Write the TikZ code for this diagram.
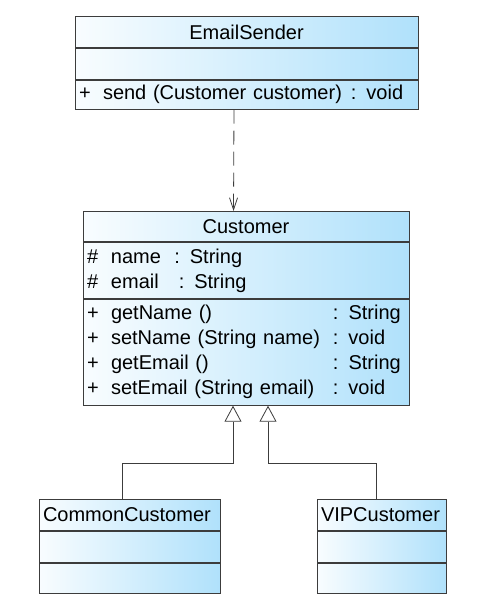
\documentclass[tikz,border=0pt]{standalone}
\usepackage{fontspec}
\setmainfont{Liberation Sans}
\usepackage{xcolor}
\definecolor{umlblue}{RGB}{176, 225, 251}
\definecolor{umledge}{RGB}{60, 60, 60}
\usetikzlibrary{positioning,arrows.meta}
\newcommand{\umlfont}{\fontsize{20}{25}\selectfont}
\newcommand{\umlvis}[1]{\makebox[24pt][l]{#1}}
\tikzset{
  umlpart/.style={
    rectangle, draw=umledge, line width=0.9pt,
    left color=umlblue!8, right color=umlblue,
    inner xsep=4pt, inner ysep=0pt, align=left, font=\umlfont
  },
  umlhead/.style={umlpart, align=center},
  dependency/.style={draw=umledge, line width=0.8pt, dash pattern=on 14pt off 7pt,
    -{Straight Barb[length=12pt,width=8pt]}},
  inherits/.style={draw=umledge, line width=0.8pt,
    -{Triangle[length=16pt,width=17pt,fill=white]}},
}

\begin{document}
\begin{tikzpicture}[x=1pt, y=-1pt]
  \useasboundingbox (0,0) rectangle (484,609);

  % EmailSender
  \node[umlhead, text width=335pt, minimum height=31pt, anchor=north] (sender) at (246.5,16) {EmailSender};
  \node[umlpart, text width=335pt, minimum height=31pt, below=0pt of sender] (sender-attr) {};
  \node[umlpart, text width=335pt, minimum height=29pt, below=0pt of sender-attr] (sender-ops)
    {\umlvis{+}send (Customer customer)\hspace{9pt}: void};

  % Customer
  \node[umlhead, text width=318pt, minimum height=30pt, anchor=north] (cust) at (246,211) {Customer};
  \node[umlpart, text width=318pt, minimum height=56pt, below=0pt of cust] (cust-attr)
    {\umlvis{\#}name\ \ : String\\\umlvis{\#}email\ \ \ : String};
  \node[umlpart, text width=318pt, minimum height=106pt, below=0pt of cust-attr] (cust-ops)
    {\begin{tabular}{@{}l@{\hspace{13pt}}l@{}}
      \umlvis{+}getName () & : String\\
      \umlvis{+}setName (String name) & : void\\
      \umlvis{+}getEmail () & : String\\
      \umlvis{+}setEmail (String email) & : void
    \end{tabular}};

  % subclasses
  \node[umlpart, text width=173pt, minimum height=31pt, anchor=north] (common) at (129.5,499) {CommonCustomer};
  \node[umlpart, text width=173pt, minimum height=31pt, below=0pt of common] (common-attr) {};
  \node[umlpart, text width=173pt, minimum height=30pt, below=0pt of common-attr] (common-ops) {};

  \node[umlpart, text width=121pt, minimum height=31pt, anchor=north] (vip) at (381.5,499) {VIPCustomer};
  \node[umlpart, text width=121pt, minimum height=31pt, below=0pt of vip] (vip-attr) {};
  \node[umlpart, text width=121pt, minimum height=30pt, below=0pt of vip-attr] (vip-ops) {};

  \draw[dependency] ([xshift=-12.5pt]sender-ops.south) -- ([xshift=-12.5pt]cust.north);
  \draw[inherits] ([xshift=-7.5pt]common.north) -- ++(0,-36) -| ([xshift=-13pt]cust-ops.south);
  \draw[inherits] ([xshift=-5.5pt]vip.north) -- ++(0,-36) -| ([xshift=22pt]cust-ops.south);
\end{tikzpicture}
\end{document}
